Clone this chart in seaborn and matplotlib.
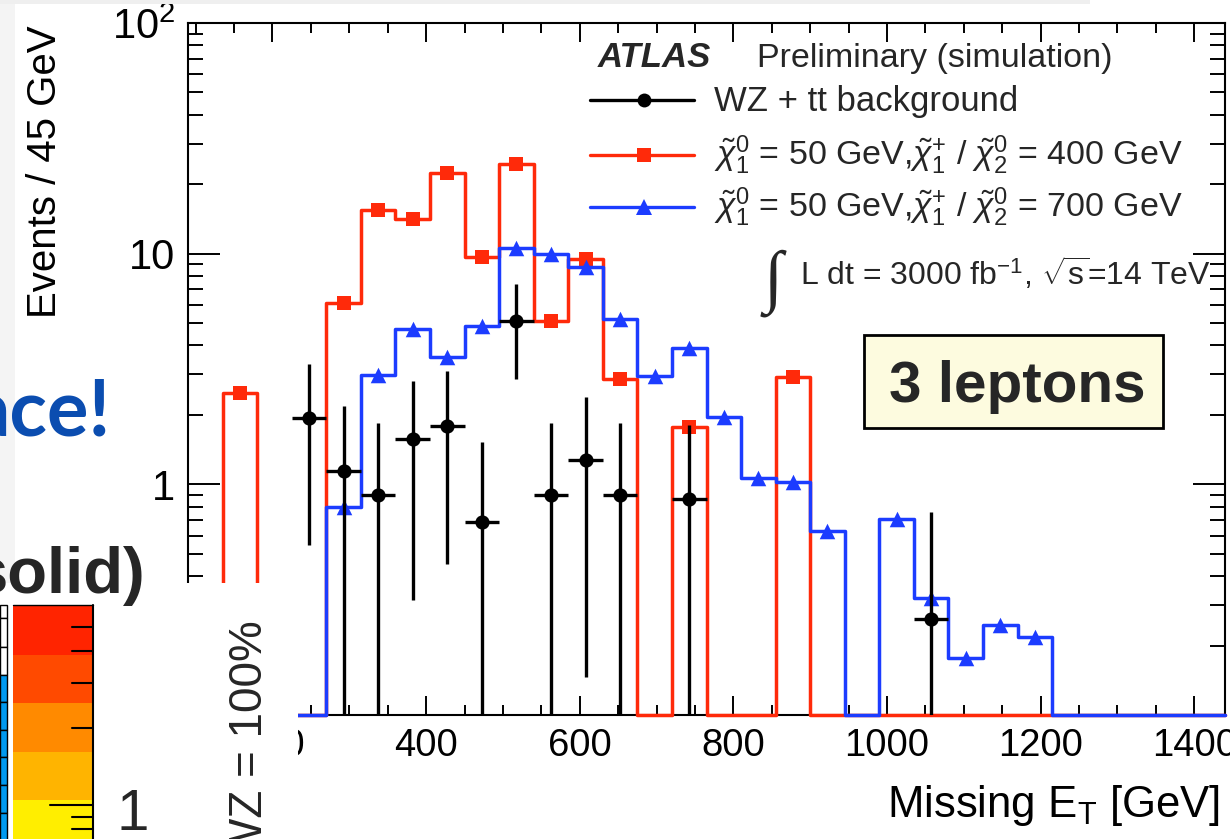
import numpy as np
import matplotlib
matplotlib.use("Agg")
import matplotlib.pyplot as plt
import matplotlib.ticker as mticker
from matplotlib.patches import Rectangle
from matplotlib.lines import Line2D
import seaborn as sns

# ---------------- data ----------------
bin_edges = [90, 135, 180, 225, 270, 315, 360, 405, 450, 495, 540, 585, 630, 675, 720,
             765, 810, 855, 900, 945, 990, 1035, 1080, 1125, 1170, 1215, 1260, 1305,
             1350, 1395, 1440]
signal_400 = [0, 2.5, 0, 0, 6.1, 15.4, 14.1, 22.4, 9.7, 24.5, 5.1, 9.5, 2.86, 0, 1.77,
              0, 0, 2.91, 0, 0, 0, 0, 0, 0, 0, 0, 0, 0, 0, 0]
signal_700 = [0, 0, 0, 0, 0.80, 2.97, 4.70, 3.55, 4.85, 10.6, 10.0, 8.75, 5.2, 2.94, 3.89,
              1.95, 1.07, 1.02, 0.63, 0, 0.71, 0.32, 0.176, 0.245, 0.217, 0, 0, 0, 0, 0]
bkg_met = [247.5, 292.5, 337.5, 382.5, 427.5, 472.5, 517.5, 562.5, 607.5, 652.5, 742.5, 1057.5]
bkg_val = [1.93, 1.14, 0.90, 1.57, 1.785, 0.69, 5.1, 0.90, 1.27, 0.90, 0.86, 0.26]
bkg_lo = [0.544, 0, 0, 0.314, 0.45, 0, 2.86, 0, 0.146, 0, 0, 0]
bkg_hi = [3.32, 2.18, 1.84, 2.8, 3.09, 1.52, 7.37, 1.84, 2.38, 1.84, 1.8, 0.76]
bin_halfwidth = 22.5
x_ticks = [200, 400, 600, 800, 1000, 1200, 1400]
y_ticks = [0.1, 1, 10, 100]
y_ticklabels = ['', '1', '10', r'$10^{2}$']
legend_labels = ['WZ + tt background',
                 r'$\tilde{\chi}^{0}_{1}$ = 50 GeV,$\tilde{\chi}^{+}_{1}$ / $\tilde{\chi}^{0}_{2}$ = 400 GeV',
                 r'$\tilde{\chi}^{0}_{1}$ = 50 GeV,$\tilde{\chi}^{+}_{1}$ / $\tilde{\chi}^{0}_{2}$ = 700 GeV']
cbar_colors = ['#ff2400', '#ff4a00', '#ff8a00', '#ffb400', '#ffee00']
cbar_cells = ['white', 'white', 'white', '#0099f0', '#0099f0', '#0099f0', '#0099f0', '#0099f0', '#0099f0']

# ---------------- style ----------------
sns.set_theme(style="ticks")
plt.rcParams['font.family'] = ['Liberation Sans', 'DejaVu Sans']
plt.rcParams['mathtext.fontset'] = 'custom'
plt.rcParams['mathtext.rm'] = 'Liberation Sans'
plt.rcParams['mathtext.it'] = 'Liberation Sans:italic'
plt.rcParams['mathtext.bf'] = 'Liberation Sans:bold'
plt.rcParams['mathtext.sf'] = 'Liberation Sans'

RED = '#ff2a0a'
BLUE = '#1c3cff'
W, H = 1230, 839
fig = plt.figure(figsize=(W / 100, H / 100), dpi=100)
fig.patch.set_facecolor('white')

L, R, T, B = 188, 1225, 23, 715
ax = fig.add_axes([L / W, 1 - B / H, (R - L) / W, (B - T) / H])
ax.set_yscale('log')
YMIN = 0.1

edges = np.array(bin_edges, float)
centers = 0.5 * (edges[:-1] + edges[1:])

def stairs(vals):
    v = np.asarray(vals, float)
    v = np.where(v > 0, v, YMIN)
    return edges, np.append(v, v[-1])

for vals, col, mk, ms, z in [(signal_400, RED, 's', 110, 3), (signal_700, BLUE, '^', 125, 4)]:
    xs, ys = stairs(vals)
    sns.lineplot(x=xs, y=ys, drawstyle='steps-post', color=col, lw=2.5, ax=ax,
                 estimator=None, sort=False, clip_on=False, zorder=z)
    v = np.asarray(vals, float)
    m = v > 0
    sns.scatterplot(x=centers[m], y=v[m], marker=mk, s=ms, color=col, edgecolor=col,
                    linewidth=0, ax=ax, zorder=z + 0.5)

bx = np.array(bkg_met)
by = np.array(bkg_val)
lo = np.where(np.array(bkg_lo) > 0, bkg_lo, 1e-3)
ax.errorbar(bx, by, xerr=bin_halfwidth, yerr=[by - lo, np.array(bkg_hi) - by], fmt='none',
            ecolor='black', elinewidth=2.4, capsize=0, zorder=6)
sns.scatterplot(x=bx, y=by, marker='o', s=105, color='black', edgecolor='black',
                linewidth=0, ax=ax, zorder=7)

ax.set_xlim(90, 1440)
ax.set_ylim(0.1, 100)
ax.set_xticks(x_ticks)
ax.set_xticklabels([str(t) for t in x_ticks])
ax.xaxis.set_minor_locator(mticker.MultipleLocator(50))
ax.yaxis.set_major_locator(mticker.FixedLocator(y_ticks))
ax.yaxis.set_major_formatter(mticker.FixedFormatter(y_ticklabels))
ax.yaxis.set_minor_locator(mticker.LogLocator(base=10, subs=np.arange(2, 10)))
ax.yaxis.set_minor_formatter(mticker.NullFormatter())
ax.tick_params(axis='both', which='both', direction='in', top=True, right=True,
               color='black', width=1.4, labelcolor='black')
ax.tick_params(axis='x', which='major', length=14, labelsize=27.5, pad=9)
ax.tick_params(axis='x', which='minor', length=7)
ax.tick_params(axis='y', which='major', length=23, labelsize=30, pad=9)
ax.tick_params(axis='y', which='minor', length=11)
for s in ax.spines.values():
    s.set_visible(True)
    s.set_linewidth(1.5)
    s.set_color('black')
ax.grid(False)

ax.set_xlabel(r'Missing E$_{\mathrm{T}}$ [GeV]', fontsize=31.5, loc='right', color='black')
ax.xaxis.set_label_coords((1220 - L) / (R - L), (B - 783) / (B - T))
ax.set_ylabel('Events / 45 GeV', fontsize=29, color='black')
ax.yaxis.set_label_coords((64 - L) / (R - L), (B - 172) / (B - T))

# ---------------- overlay in pixel coordinates ----------------
ov = fig.add_axes([0, 0, 1, 1], zorder=10)
ov.set_xlim(0, W)
ov.set_ylim(H, 0)
ov.axis('off')
ov.patch.set_alpha(0)

# legend / labels of the ATLAS plot
ov.text(598, 67, 'ATLAS', fontsize=25, fontweight='bold', fontstyle='italic', va='baseline')
ov.text(757, 67, 'Preliminary (simulation)', fontsize=24.5, va='baseline')
for yy, col, mk, ms, lab, base, fs in [(100, 'black', 'o', 10, legend_labels[0], 111, 25),
                                       (155, RED, 's', 10.5, legend_labels[1], 165, 24.5),
                                       (207, BLUE, '^', 11.5, legend_labels[2], 217, 24.5)]:
    ov.add_line(Line2D([590, 694], [yy, yy], color=col, lw=2.4))
    ov.add_line(Line2D([644], [yy], color=col, marker=mk, ms=ms, mew=0, lw=0))
    ov.text(714, base, lab, fontsize=fs, va='baseline')
ov.text(773, 283, '\u222b', fontsize=50, family=['Liberation Serif', 'DejaVu Serif'],
        fontstyle='italic', ha='center', va='center')
ov.text(800, 285, r'L dt = 3000 fb$^{\mathrm{-1}}$, $\sqrt{\mathrm{s}}$=14 TeV', fontsize=23,
        va='baseline')

ov.add_patch(Rectangle((864, 335), 299, 93, fc='#fdfbdf', ec='black', lw=2))
ov.text(1017, 402, '3 leptons', fontsize=42, fontweight='bold', ha='center', va='baseline')

# slide fragments covering the left part
ov.add_patch(Rectangle((0, 0), 1090, 4, fc='#efefef', ec='none'))
ov.add_patch(Rectangle((0, 4), 15, 579, fc='#f4f4f4', ec='none'))
ov.add_patch(Rectangle((0, 583), 298, 256, fc='white', ec='none'))
ov.text(110, 435, 'ace!', color='#0b4db0', fontsize=56, fontweight='bold',
        family=['Lato', 'DejaVu Sans'], ha='right', va='baseline')
ov.text(145, 593, 'solid)', fontsize=47, fontweight='bold', ha='right', va='baseline')

cb_bounds = [605, 655, 703, 752, 800, 848]
for i, c in enumerate(cbar_colors):
    ov.add_patch(Rectangle((13, cb_bounds[i]), 80, cb_bounds[i + 1] - cb_bounds[i], fc=c, ec='none'))
ov.add_line(Line2D([13, 93], [605, 605], color='black', lw=1))
ov.add_line(Line2D([93, 93], [605, 839], color='black', lw=1.5))
for ty, ln in [(627, 21), (651, 21), (683, 21), (728, 21), (805, 43), (817, 21), (829, 21)]:
    ov.add_line(Line2D([93 - ln, 93], [ty, ty], color='black', lw=1.5))
cell_bounds = [605, 618, 647, 675, 702, 730, 757, 785, 813, 840]
for i, c in enumerate(cbar_cells):
    ov.add_patch(Rectangle((0, cell_bounds[i]), 7, cell_bounds[i + 1] - cell_bounds[i],
                           fc=c, ec='black', lw=1))
ov.text(133, 830, '1', fontsize=42, ha='center', va='baseline')
ov.text(250, 620, 'WZ = 100%', fontsize=33, rotation=90, rotation_mode='anchor',
        ha='right', va='center')

fig.savefig('out.png', dpi=100, facecolor='white')
